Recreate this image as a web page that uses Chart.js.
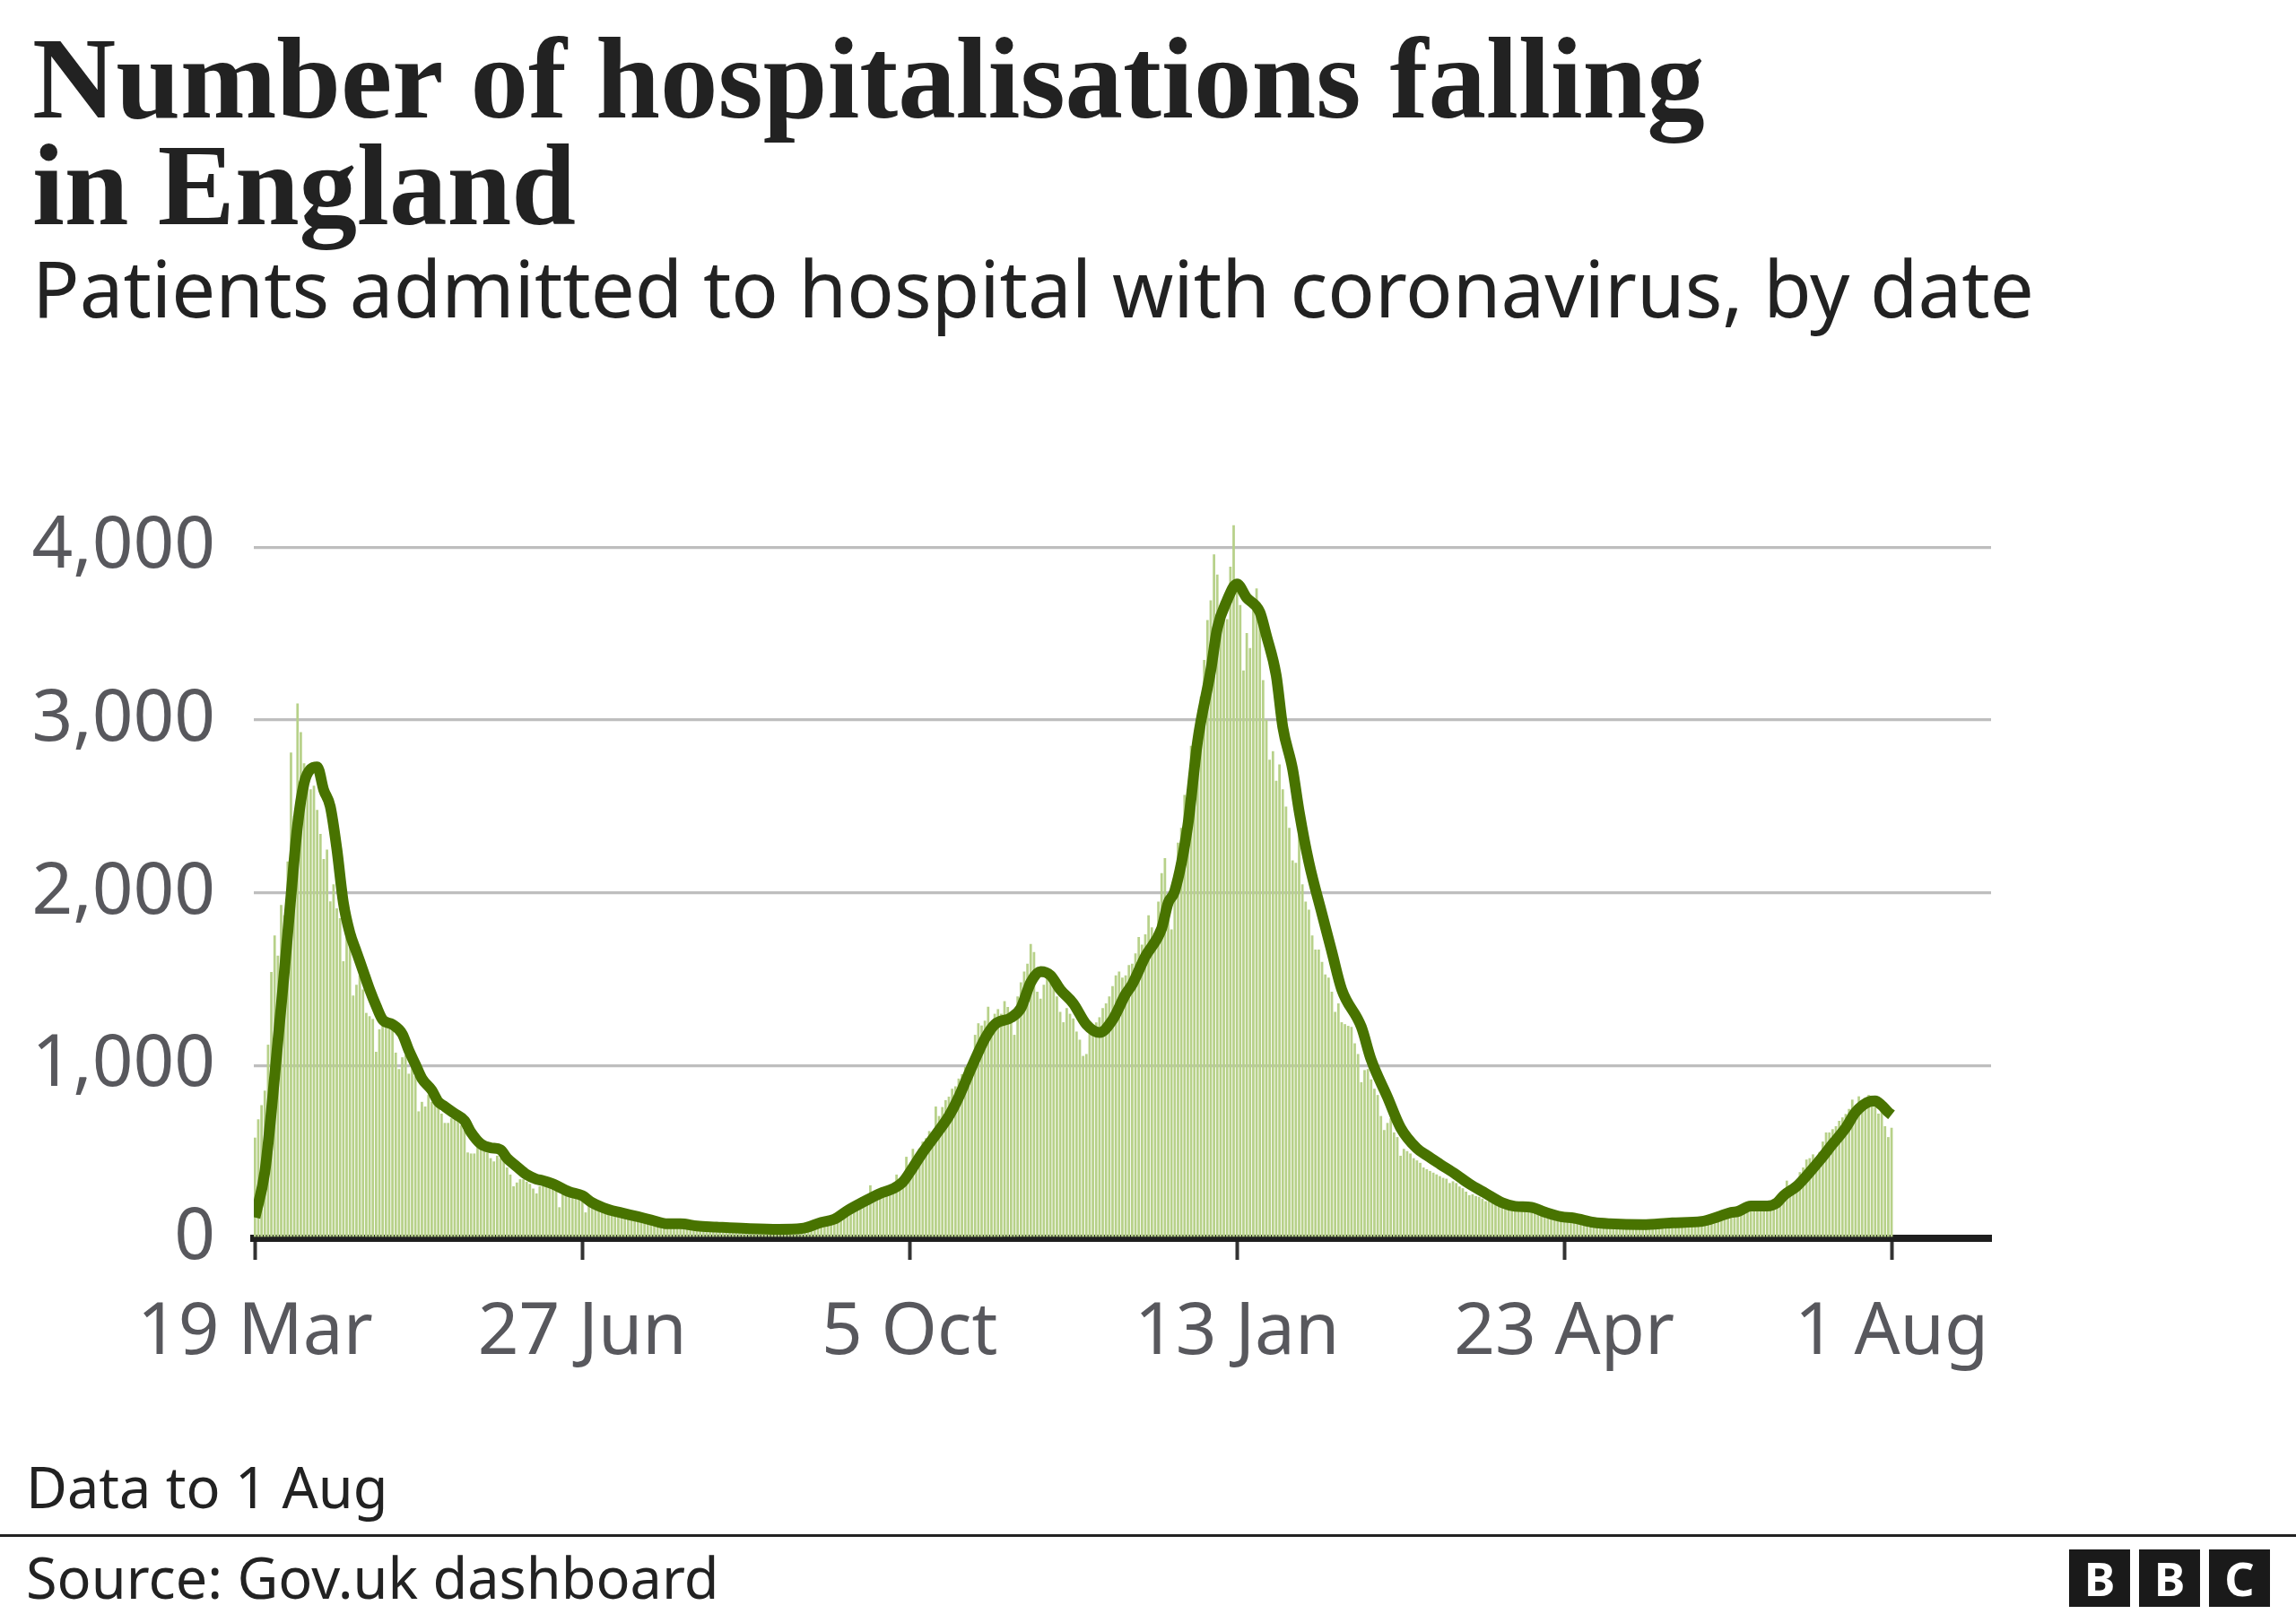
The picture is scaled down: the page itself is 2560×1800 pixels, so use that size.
<!DOCTYPE html>
<html>
<head>
<meta charset="utf-8">
<script src="https://cdn.jsdelivr.net/npm/chart.js@4.4.1/dist/chart.umd.min.js"></script>
<style>
  html, body { margin: 0; padding: 0; background: #fff; }
  #page { position: relative; width: 2560px; height: 1800px; overflow: hidden; background: #fff; }
  #chart { position: absolute; left: 0; top: 0; }
  .txt { position: absolute; white-space: nowrap; color: #222; }
  #title { left: 36px; top: 28px; font: bold 129px "Liberation Serif", serif; line-height: 119px; }
  #subtitle { left: 36px; top: 277px; font: 87px "Noto Sans", sans-serif; line-height: 87px; }
  #note { left: 29px; top: 1626px; font: 63px "Noto Sans", sans-serif; line-height: 63px; }
  #source { left: 29px; top: 1727px; font: 63px "Noto Sans", sans-serif; line-height: 63px; }
  #rule { position: absolute; left: 0; top: 1711px; width: 2560px; height: 3px; background: #222; }
  .bbc { position: absolute; top: 1728px; width: 68px; height: 64px; background: #1a1a1a; color: #fff;
         font: bold 52px "Noto Sans", sans-serif; line-height: 64px; text-align: center; }
</style>
</head>
<body>
<div id="page">
  <canvas id="chart" width="2560" height="1800"></canvas>
  <div id="title" class="txt">Number of hospitalisations falling<br>in England</div>
  <div id="subtitle" class="txt">Patients admitted to hospital with coronavirus, by date</div>
  <div id="note" class="txt">Data to 1 Aug</div>
  <div id="rule"></div>
  <div id="source" class="txt">Source: Gov.uk dashboard</div>
  <div class="bbc" style="left:2307px">B</div>
  <div class="bbc" style="left:2385px">B</div>
  <div class="bbc" style="left:2463px">C</div>
</div>
<script>
// Days counted from 19 Mar 2020 (day 0) to 1 Aug 2021 (day 500)
var tickDays = [0, 100, 200, 300, 400, 500];
var tickLabels = ["19 Mar", "27 Jun", "5 Oct", "13 Jan", "23 Apr", "1 Aug"];
var yTicks = [0, 1000, 2000, 3000, 4000];

// Daily admissions, one per day from day 0
var dailyAdmissions = [
  583, 689, 771, 855, 1121, 1542, 1753, 1637, 1930, 1870,
  2182, 2812, 2445, 3097, 2931, 2750, 2680, 2600, 2620, 2480,
  2342, 2196, 2250, 1951, 2050, 1911, 1854, 1604, 1767, 1726,
  1406, 1468, 1523, 1441, 1305, 1286, 1270, 1080, 1210, 1238,
  1229, 1224, 1210, 1075, 980, 1048, 1061, 953, 993, 939,
  735, 790, 763, 830, 790, 776, 763, 722, 668, 668,
  695, 695, 681, 654, 627, 497, 491, 491, 546, 532,
  505, 497, 464, 445, 478, 464, 464, 410, 369, 301,
  323, 342, 342, 328, 315, 288, 260, 301, 301, 301,
  300, 290, 285, 180, 275, 265, 255, 250, 245, 240,
  230, 150, 205, 200, 195, 185, 175, 165, 160, 165,
  155, 150, 145, 140, 145, 135, 115, 130, 120, 115,
  110, 105, 100, 95, 90, 85, 90, 85, 80, 85,
  80, 78, 75, 72, 70, 68, 70, 66, 64, 65,
  62, 60, 63, 60, 58, 60, 57, 55, 58, 56,
  55, 53, 56, 52, 50, 54, 52, 50, 53, 55,
  52, 54, 57, 60, 62, 65, 68, 72, 78, 85,
  85, 90, 95, 100, 110, 118, 125, 140, 150, 160,
  175, 185, 195, 210, 220, 230, 235, 245, 307, 255,
  265, 275, 280, 300, 290, 310, 369, 330, 340, 472,
  420, 518, 470, 520, 560, 580, 621, 600, 763, 708,
  760, 800, 820, 866, 880, 925, 950, 993, 1010, 1050,
  1178, 1245, 1232, 1260, 1341, 1170, 1300, 1327, 1300, 1373,
  1340, 1280, 1178, 1400, 1482, 1544, 1590, 1704, 1658, 1428,
  1387, 1468, 1536, 1500, 1482, 1400, 1311, 1251, 1333, 1300,
  1273, 1197, 1150, 1056, 1067, 1238, 1220, 1250, 1280, 1333,
  1360, 1400, 1460, 1523, 1544, 1510, 1523, 1582, 1590, 1650,
  1745, 1700, 1760, 1870, 1800, 1753, 1950, 2114, 2201, 1924,
  1789, 2000, 2291, 2377, 2567, 2600, 2852, 2790, 2880, 3137,
  3349, 3580, 3694, 3960, 3843, 3585, 3667, 3585, 3889, 4128,
  3816, 3667, 3287, 3504, 3417, 3640, 3762, 3545, 3232, 3002,
  2771, 2820, 2649, 2744, 2600, 2500, 2377, 2188, 2174, 2350,
  2050, 1950, 1903, 1753, 1672, 1672, 1600, 1528, 1509, 1428,
  1311, 1360, 1251, 1240, 1230, 1224, 1129, 1067, 904, 974,
  980, 920, 866, 830, 708, 627, 668, 695, 613, 586,
  478, 518, 505, 491, 464, 451, 437, 410, 400, 390,
  380, 370, 360, 350, 345, 320, 330, 320, 300, 290,
  270, 250, 255, 245, 240, 230, 215, 215, 205, 200,
  195, 180, 185, 178, 175, 170, 172, 168, 165, 160,
  158, 150, 148, 140, 135, 132, 128, 122, 118, 115,
  112, 110, 105, 100, 98, 95, 92, 90, 88, 86,
  85, 83, 82, 80, 80, 79, 78, 80, 78, 77,
  78, 80, 79, 78, 80, 82, 84, 83, 85, 86,
  88, 87, 90, 92, 91, 93, 95, 96, 98, 100,
  102, 105, 108, 112, 118, 125, 132, 140, 148, 155,
  160, 165, 170, 175, 180, 185, 190, 188, 185, 190,
  192, 190, 188, 195, 200, 210, 225, 240, 334, 260,
  280, 300, 383, 410, 456, 464, 486, 470, 500, 560,
  613, 613, 632, 649, 680, 700, 720, 749, 803, 770,
  822, 800, 815, 830, 820, 811, 722, 741, 649, 586,
  640
];

var avgDays = [
  0, 3, 5, 7, 9, 11, 13, 15, 17, 19,
  21, 23, 25, 27, 29, 31, 33, 35, 37, 39,
  42, 45, 47, 49, 51, 54, 56, 58, 61, 64,
  66, 69, 72, 75, 77, 80, 83, 86, 88, 91,
  96, 100, 103, 108, 112, 117, 121, 126, 130, 135,
  141, 150, 160, 167, 173, 177, 181, 186, 191, 195,
  198, 201, 204, 208, 212, 215, 219, 223, 226, 231,
  234, 237, 240, 243, 246, 250, 254, 258, 262, 266,
  268, 272, 277, 279, 281, 285, 288, 292, 294, 297,
  300, 303, 307, 309, 312, 314, 317, 319, 322, 326,
  329, 332, 338, 341, 346, 350, 355, 358, 362, 367,
  371, 376, 381, 385, 390, 394, 399, 403, 409, 414,
  424, 433, 442, 447, 451, 453, 457, 462, 465, 467,
  471, 475, 478, 482, 486, 489, 493, 495, 497, 499,
  500
];
var avgValues = [
  120, 383, 735, 1143, 1550, 1984, 2391, 2635, 2717, 2730,
  2595, 2500, 2255, 1943, 1767, 1658, 1550, 1441, 1346, 1265,
  1238, 1183, 1088, 1007, 925, 858, 790, 763, 722, 681,
  613, 546, 524, 513, 464, 415, 369, 342, 334, 315,
  269, 247, 206, 166, 147, 125, 106, 84, 84, 71,
  65, 57, 52, 57, 92, 111, 160, 212, 260, 288,
  328, 410, 497, 600, 708, 817, 993, 1156, 1238, 1278,
  1333, 1482, 1544, 1523, 1441, 1360, 1238, 1191, 1265, 1414,
  1470, 1631, 1794, 1943, 2011, 2391, 2880, 3287, 3531, 3694,
  3789, 3708, 3626, 3490, 3259, 2961, 2717, 2473, 2175, 1877,
  1658, 1441, 1224, 1034, 817, 640, 520, 480, 430, 369,
  315, 260, 206, 185, 179, 152, 125, 117, 92, 84,
  79, 90, 98, 125, 150, 155, 187, 187, 206, 247,
  301, 383, 450, 546, 640, 730, 790, 795, 770, 730,
  715
];

var BAR_COLOR = "#b7d189";
var LINE_COLOR = "#487300";
var TICK_COLOR = "#58585d";

var barPoints = dailyAdmissions.map(function (v, i) { return { x: i, y: v }; });
var avgPoints = avgDays.map(function (d, i) { return { x: d, y: avgValues[i] }; });

new Chart(document.getElementById("chart"), {
  type: "bar",
  data: {
    datasets: [
      {
        type: "line",
        data: avgPoints,
        borderColor: LINE_COLOR,
        borderWidth: 12,
        pointRadius: 0,
        cubicInterpolationMode: "monotone",
        borderCapStyle: "butt",
        borderJoinStyle: "round",
        fill: false,
        order: 0
      },
      {
        type: "bar",
        data: barPoints,
        backgroundColor: BAR_COLOR,
        borderWidth: 0,
        barPercentage: 0.75,
        categoryPercentage: 1.0,
        order: 1
      }
    ]
  },
  options: {
    responsive: false,
    animation: false,
    layout: { padding: { top: 572, right: 340, bottom: 259, left: 0 } },
    plugins: { legend: { display: false }, tooltip: { enabled: false } },
    scales: {
      x: {
        type: "linear",
        z: 1,
        min: -0.36,
        max: 530.4,
        offset: false,
        afterBuildTicks: function (scale) {
          scale.ticks = tickDays.map(function (d) { return { value: d }; });
        },
        afterFit: function (scale) { scale.height = 160; },
        ticks: {
          autoSkip: false,
          maxRotation: 0,
          padding: 34,
          color: TICK_COLOR,
          font: { family: "Noto Sans", size: 80 },
          callback: function (value) { return tickLabels[tickDays.indexOf(value)]; }
        },
        grid: {
          offset: false,
          drawOnChartArea: false,
          drawTicks: true,
          tickLength: 24,
          tickWidth: 4,
          tickColor: "#333333"
        },
        border: { display: true, color: "#1e1e1e", width: 8 }
      },
      y: {
        min: 0,
        max: 4200,
        afterBuildTicks: function (scale) {
          scale.ticks = yTicks.map(function (v) { return { value: v }; });
        },
        afterFit: function (scale) { scale.width = 283; },
        ticks: {
          padding: 43,
          color: TICK_COLOR,
          font: { family: "Noto Sans", size: 80 },
          callback: function (value) { return value.toLocaleString("en-GB"); }
        },
        grid: {
          drawTicks: false,
          lineWidth: 3.3,
          color: function (ctx) {
            return ctx.tick && ctx.tick.value === 0 ? "rgba(0,0,0,0)" : "#bebebe";
          }
        },
        border: { display: false }
      }
    }
  }
});
</script>
</body>
</html>
